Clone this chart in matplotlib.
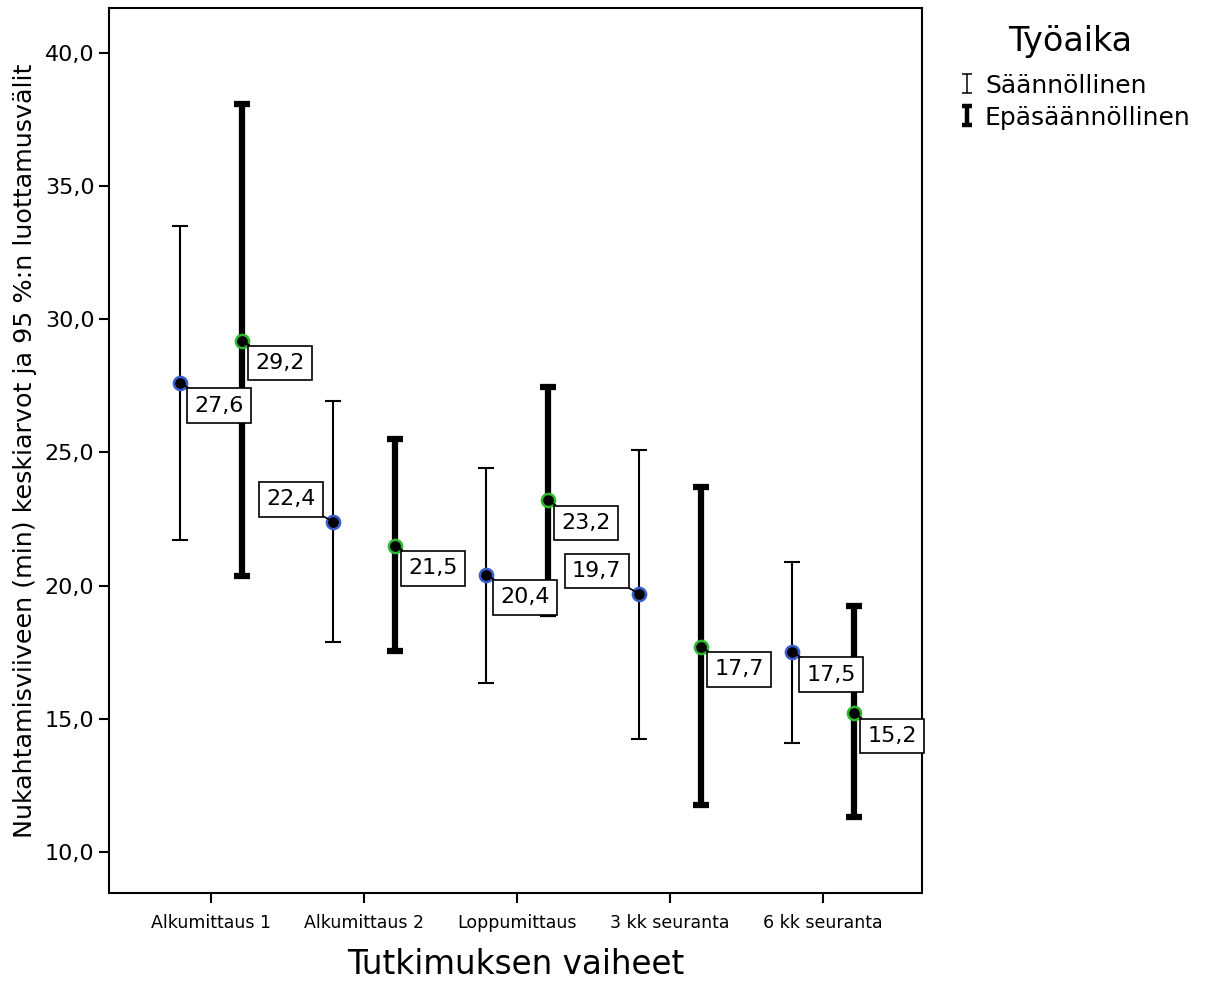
import matplotlib
matplotlib.use('Agg')
import matplotlib.pyplot as plt
from matplotlib.legend_handler import HandlerErrorbar
import numpy as np

CATEGORIES = ['Alkumittaus 1', 'Alkumittaus 2', 'Loppumittaus',
              '3 kk seuranta', '6 kk seuranta']
SERIES = ['Säännöllinen', 'Epäsäännöllinen']

SAAN_MEAN = [27.6, 22.4, 20.4, 19.7, 17.5]
SAAN_LOW = [21.7, 17.9, 16.35, 14.25, 14.1]
SAAN_HIGH = [33.5, 26.95, 24.4, 25.1, 20.9]

EPA_MEAN = [29.2, 21.5, 23.2, 17.7, 15.2]
EPA_LOW = [20.35, 17.55, 18.95, 11.75, 11.3]
EPA_HIGH = [38.1, 25.5, 27.45, 23.7, 19.25]

# label placement: 'rb' = right-below of the point, 'la' = left-above
SAAN_PLACE = ['rb', 'la', 'rb', 'la', 'rb']
EPA_PLACE = ['rb', 'rb', 'rb', 'rb', 'rb']


def fmt(v):
    return ('%.1f' % v).replace('.', ',')


def draw_series(ax, xs, mean, low, high, lw, edge, places):
    mean = np.array(mean)
    yerr = [mean - np.array(low), np.array(high) - mean]
    ax.errorbar(xs, mean, yerr=yerr, fmt='none', ecolor='black',
                elinewidth=lw, capsize=5.8, capthick=lw, zorder=2)
    ax.plot(xs, mean, 'o', markersize=9.5, markerfacecolor='black',
            markeredgecolor=edge, markeredgewidth=1.8, linestyle='none',
            zorder=4)
    for x, m, p in zip(xs, mean, places):
        if p == 'rb':
            off, ha, va = (10, -9), 'left', 'top'
        else:
            off, ha, va = (-13, 9), 'right', 'bottom'
        ax.annotate(fmt(m), xy=(x, m), xytext=off, textcoords='offset points',
                    ha=ha, va=va, fontsize=16, zorder=5,
                    bbox=dict(boxstyle='square,pad=0.33', fc='white',
                              ec='black', lw=1.2),
                    arrowprops=dict(arrowstyle='-', color='black', lw=1.2,
                                    shrinkA=0, shrinkB=0))


fig = plt.figure(figsize=(12.09, 9.83), dpi=100)
ax = fig.add_axes([0.0902, 0.0916, 0.6724, 0.9003])

x = np.arange(len(CATEGORIES))
draw_series(ax, x - 0.2, SAAN_MEAN, SAAN_LOW, SAAN_HIGH, 1.5,
            '#3a5fcd', SAAN_PLACE)
draw_series(ax, x + 0.2, EPA_MEAN, EPA_LOW, EPA_HIGH, 4.5,
            '#2eb82e', EPA_PLACE)

# legend proxies
h1 = ax.errorbar([np.nan], [np.nan], yerr=[1], fmt='none', ecolor='black',
                 elinewidth=1.1, capsize=3.5, capthick=1.1, label=SERIES[0])
h2 = ax.errorbar([np.nan], [np.nan], yerr=[1], fmt='none', ecolor='black',
                 elinewidth=3.2, capsize=3.5, capthick=3.2, label=SERIES[1])

ax.set_xlim(-0.667, 4.647)
ax.set_ylim(8.46, 41.69)
ax.set_yticks(np.arange(10, 41, 5))
ax.set_yticklabels([fmt(v) for v in np.arange(10, 41, 5)], fontsize=16)
ax.set_xticks(x)
ax.set_xticklabels(CATEGORIES, fontsize=12.5)
ax.tick_params(axis='both', direction='out', length=7, width=1.5)
ax.tick_params(axis='x', pad=8)
for s in ax.spines.values():
    s.set_linewidth(1.5)

ax.set_xlabel('Tutkimuksen vaiheet', fontsize=23.5, labelpad=12)
ax.set_ylabel('Nukahtamisviiveen (min) keskiarvot ja 95 %:n luottamusvälit',
              fontsize=18.3, labelpad=6)

fig.text(0.8855, 0.958, 'Työaika', fontsize=24, ha='center', va='center')
fig.legend(handles=[h1, h2], loc='upper left',
           bbox_to_anchor=(0.795, 0.925), frameon=False, fontsize=18,
           handlelength=0.5, handletextpad=0.45, labelspacing=0.32,
           borderaxespad=0, borderpad=0,
           handler_map={h1: HandlerErrorbar(yerr_size=0.38),
                        h2: HandlerErrorbar(yerr_size=0.38)})

fig.savefig('out.png', dpi=100)
